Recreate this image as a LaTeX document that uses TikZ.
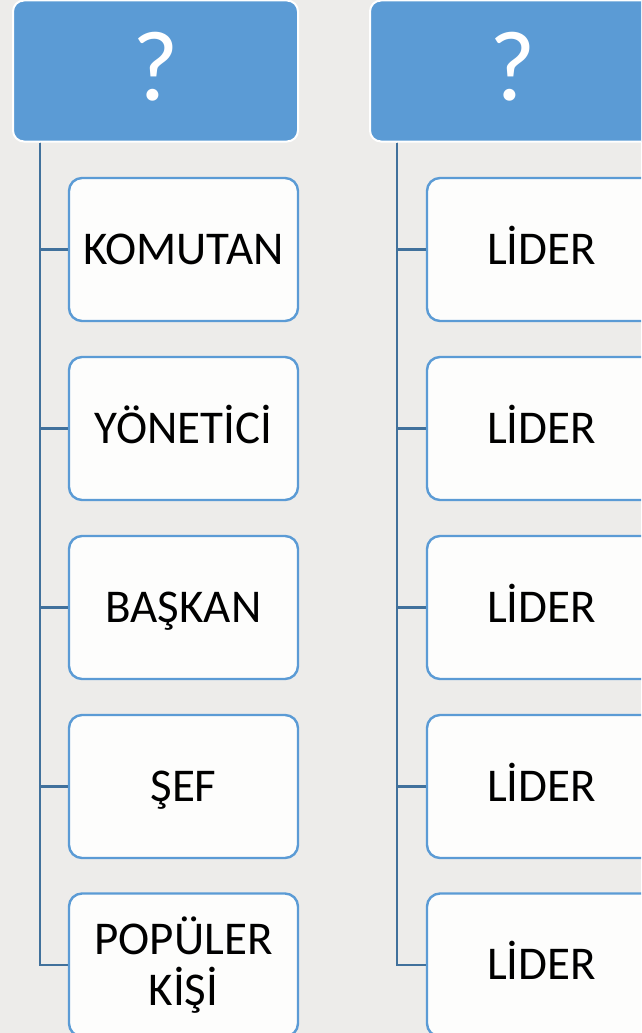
\documentclass[tikz,border=0pt]{standalone}
\usepackage{fontspec}
\setmainfont{Carlito}
\usetikzlibrary{calc}
\definecolor{bgc}{HTML}{EDECEA}
\definecolor{headc}{HTML}{5B9BD5}
\definecolor{linkc}{HTML}{41719C}
\definecolor{boxc}{HTML}{FDFDFC}
\tikzset{
  header/.style={draw=white, line width=2pt, fill=headc, rounded corners=11pt,
    minimum width=285pt, minimum height=141pt, inner sep=0pt},
  qmark/.style={text=white, font=\fontsize{100}{110}\selectfont, anchor=base, inner sep=0pt},
  itembox/.style={draw=headc, line width=2.4pt, fill=boxc, rounded corners=13pt,
    minimum width=229pt, minimum height=143pt, inner sep=0pt, text=black,
    align=center, font=\fontsize{47}{51}\selectfont},
  item/.style={itembox, text height=29pt, text depth=0pt},
  link/.style={draw=linkc, line width=2.6pt}
}
\begin{document}
\begin{tikzpicture}[x=1pt, y=-1pt]
  \useasboundingbox (0,0) rectangle (641,1033);
  \fill[bgc] (0,0) rectangle (641,1033);
  \clip (0,0) rectangle (641,1033);

  % column headers
  \node[header] (lh) at (155.5,71) {};
  \node[header] (rh) at (512.5,71) {};
  \node[qmark] (lq) at (155.5,100) {?};
  \node[qmark] (rq) at (512.5,100) {?};

  % trunk start points under each header
  \coordinate (lt) at ($(lh.south west)+(28,0)$);
  \coordinate (rt) at ($(rh.south west)+(28,0)$);

  % left column
  \node[item] (l1) at (183.5,249.5) {KOMUTAN};
  \node[item] (l2) at (183.5,428.5) {YÖNETİCİ};
  \node[item] (l3) at (183.5,607.5) {BAŞKAN};
  \node[item] (l4) at (183.5,786.5) {ŞEF};
  \node[itembox] (l5) at (183.5,965) {POPÜLER\\KİŞİ};

  % right column
  \node[item] (r1) at (541.5,249.5) {LİDER};
  \node[item] (r2) at (541.5,428.5) {LİDER};
  \node[item] (r3) at (541.5,607.5) {LİDER};
  \node[item] (r4) at (541.5,786.5) {LİDER};
  \node[item] (r5) at (541.5,965) {LİDER};

  % connectors
  \foreach \i in {1,...,5} {
    \draw[link] (lt) |- (l\i.west);
    \draw[link] (rt) |- (r\i.west);
  }
\end{tikzpicture}
\end{document}
